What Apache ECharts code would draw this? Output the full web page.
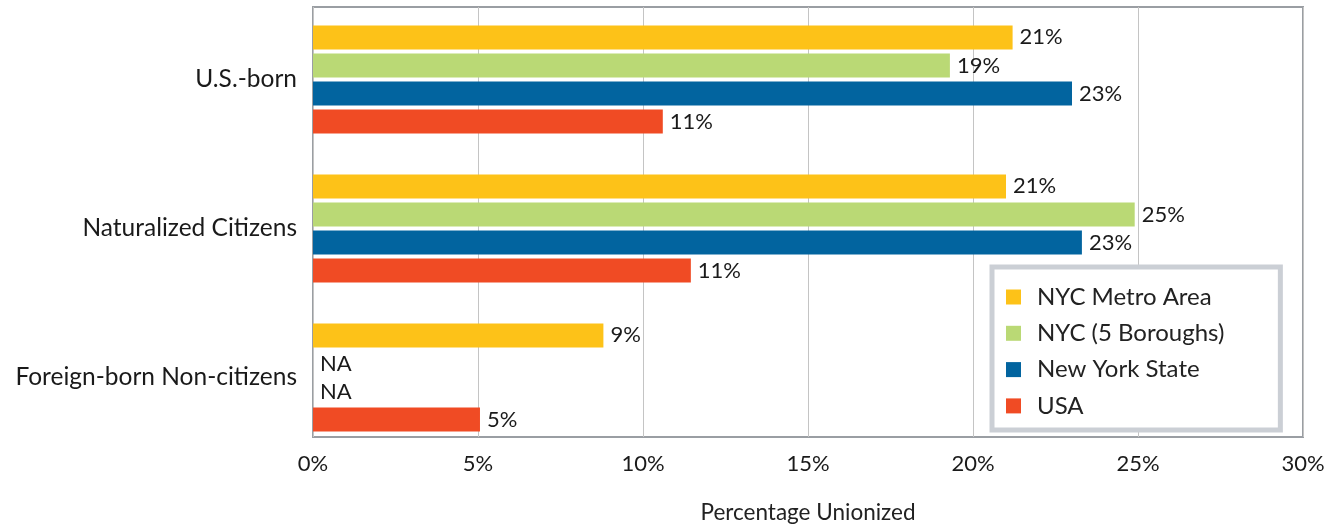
<!DOCTYPE html>
<html>
<head>
<meta charset="utf-8">
<script src="https://cdn.jsdelivr.net/npm/echarts@6/dist/echarts.min.js"></script>
<style>
  html, body { margin: 0; padding: 0; background: #fff; }
  #chart { width: 1338px; height: 529px; }
</style>
</head>
<body>
<div id="chart"></div>
<script>
// categories top to bottom
var groups = ["U.S.-born", "Naturalized Citizens", "Foreign-born Non-citizens"];
var seriesNames = ["NYC Metro Area", "NYC (5 Boroughs)", "New York State", "USA"];
// percent unionized, null = NA
var nycMetro = [21.2, 21.0, 8.8];
var nycBoroughs = [19.3, 24.9, null];
var nyState = [23.0, 23.3, null];
var usa = [10.6, 11.45, 5.06];
var colors = ["#fdc218", "#bad975", "#02649f", "#f04b24"];

var font = "Lato";
var chart = echarts.init(document.getElementById("chart"));

function makeSeries(name, values, color) {
  return {
    name: name,
    type: "bar",
    xAxisIndex: 0,
    yAxisIndex: 0,
    barWidth: 24,
    barGap: "17%",
    itemStyle: { color: color },
    label: {
      show: true,
      position: "right",
      distance: 7,
      fontFamily: font,
      fontSize: 22,
      color: "#1a1a1a",
      formatter: function (p) {
        return values[p.dataIndex] == null ? "NA" : Math.round(p.value) + "%";
      }
    },
    data: values.map(function (v) { return v == null ? 0 : v; })
  };
}

chart.setOption({
  animation: false,
  textStyle: { fontFamily: font },
  grid: [
    // bars
    { left: 313, right: 35, top: 5, bottom: 77 },
    // frame + x axis
    {
      left: 313, right: 35, top: 7, bottom: 83,
      show: true,
      borderColor: "#9a9ea3",
      borderWidth: 2
    }
  ],
  legend: {
    orient: "vertical",
    left: 992,
    top: 267,
    backgroundColor: "#fff",
    borderColor: "#cbcfd5",
    borderWidth: 5,
    padding: [18, 56, 12, 14],
    itemWidth: 15,
    itemHeight: 15,
    itemGap: 12.3,
    icon: "rect",
    textStyle: {
      fontFamily: font,
      fontSize: 24,
      lineHeight: 24,
      color: "#222",
      padding: [0, 0, 0, 11]
    },
    data: seriesNames
  },
  xAxis: [
    { type: "value", gridIndex: 0, min: 0, max: 30, show: false },
    {
      type: "value",
      gridIndex: 1,
      min: 0,
      max: 30,
      interval: 5,
      name: "Percentage Unionized",
      nameLocation: "middle",
      nameGap: 64,
      nameTextStyle: { fontFamily: font, fontSize: 22.5, color: "#222" },
      axisLine: { show: false },
      axisTick: { show: false },
      axisLabel: {
        margin: 16,
        fontFamily: font,
        fontSize: 22,
        color: "#1a1a1a",
        formatter: "{value}%"
      },
      splitLine: { lineStyle: { color: "#c4c4c4", width: 1 } }
    }
  ],
  yAxis: [
    {
      type: "category",
      gridIndex: 0,
      inverse: true,
      data: groups,
      axisLine: { show: false },
      axisTick: { show: false },
      splitLine: { show: false },
      axisLabel: {
        margin: 16,
        fontFamily: font,
        fontSize: 24.5,
        color: "#1a1a1a",
        padding: [0, 0, 8, 0]
      }
    },
    { type: "value", gridIndex: 1, show: false, splitLine: { show: false } }
  ],
  series: [
    makeSeries(seriesNames[0], nycMetro, colors[0]),
    makeSeries(seriesNames[1], nycBoroughs, colors[1]),
    makeSeries(seriesNames[2], nyState, colors[2]),
    makeSeries(seriesNames[3], usa, colors[3])
  ]
});
</script>
</body>
</html>
